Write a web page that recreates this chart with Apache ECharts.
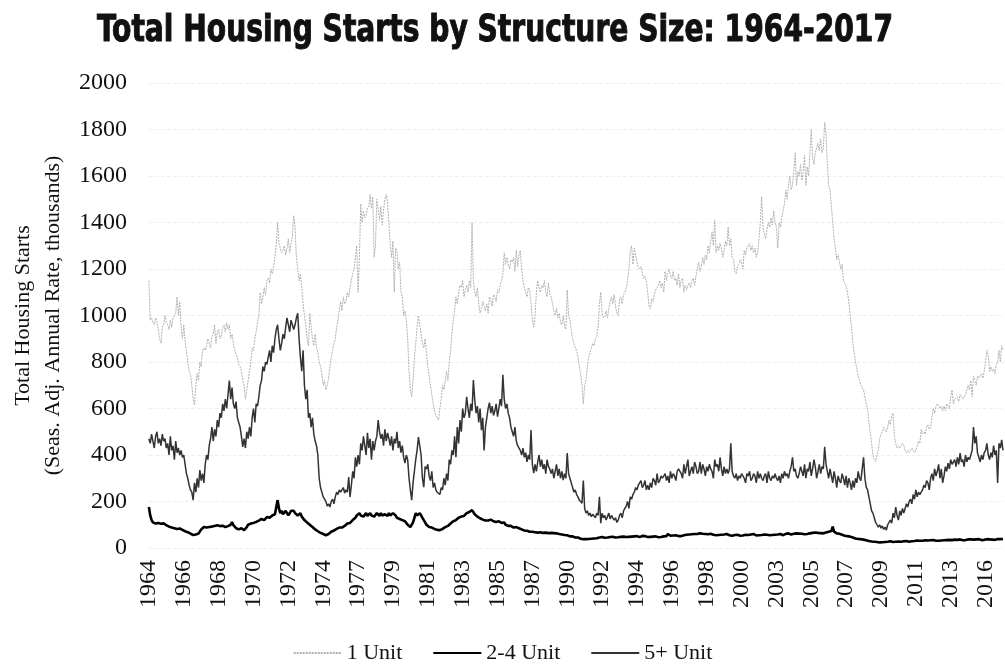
<!DOCTYPE html>
<html>
<head>
<meta charset="utf-8">
<script src="https://cdn.jsdelivr.net/npm/echarts@6/dist/echarts.min.js"></script>
<style>
  html, body { margin: 0; padding: 0; background: #fff; }
  #chart { width: 1005px; height: 669px; }
</style>
</head>
<body>
<div id="chart"></div>
<script>
// monthly, seasonally adjusted annual rate, thousands
var startYear = 1964;
var seriesNames = ['1 Unit', '2-4 Unit', '5+ Unit'];

var oneUnit = [
  1150, 980, 990, 970, 960, 990, 975, 940, 900, 880, 950, 960,
  1000, 970, 960, 940, 980, 950, 990, 1000, 1010, 1080, 1000, 1060,
  950, 900, 960, 890, 850, 800, 760, 750, 700, 640, 615, 700,
  750, 720, 800, 780, 850, 860, 850, 870, 900, 880, 860, 910,
  920, 960, 880, 930, 940, 900, 910, 950, 960, 930, 970, 940,
  960, 900, 920, 880, 850, 830, 820, 790, 780, 760, 720, 700,
  640, 680, 720, 760, 800, 860, 850, 900, 930, 970, 1000, 1100,
  1050, 1080, 1120, 1090, 1150, 1160, 1140, 1200, 1180, 1210, 1250, 1300,
  1400, 1310, 1290, 1270, 1280, 1300, 1260, 1290, 1330, 1270, 1310, 1340,
  1430, 1380, 1250, 1200, 1150, 1180, 1120, 1050, 1000, 960, 900, 870,
  1010, 950, 900, 870, 920, 860, 840, 800, 780, 750, 700, 720,
  680, 700, 730, 780, 820, 850, 880, 900, 950, 980, 1020, 1060,
  1020, 1080, 1050, 1060, 1100, 1080, 1120, 1150, 1180, 1200, 1250, 1300,
  1100, 1250, 1480, 1400, 1450, 1420, 1430, 1460, 1470, 1520, 1460, 1510,
  1250, 1300, 1500, 1460, 1410, 1470, 1390, 1450, 1500, 1520, 1480, 1400,
  1300, 1250, 1320, 1100, 1290, 1280, 1200, 1230, 1100, 1080, 1000, 1020,
  980, 900, 760, 680, 650, 720, 820, 880, 950, 1000, 960, 920,
  880, 860, 900, 840, 780, 740, 700, 660, 620, 590, 570, 560,
  550, 600, 640, 700, 680, 720, 760, 720, 800, 850, 920, 980,
  1020, 1080, 1050, 1100, 1130, 1120, 1150, 1080, 1110, 1130, 1100, 1150,
  1120, 1400, 1150, 1100, 1080, 1120, 1050, 1010, 1030, 1060, 1040, 1020,
  1050, 1010, 1080, 1070, 1040, 1090, 1080, 1060, 1110, 1100, 1130, 1150,
  1180, 1270, 1220, 1250, 1220, 1200, 1240, 1230, 1250, 1190, 1280, 1210,
  1260, 1280, 1200, 1150, 1120, 1100, 1080, 1120, 1110, 1050, 980, 950,
  1000, 1100, 1150, 1120, 1100, 1130, 1120, 1150, 1100, 1080, 1140, 1090,
  1080, 1050, 1020, 1000, 1030, 990, 1010, 970, 960, 1000, 950, 940,
  1110, 1000, 980, 940, 900, 880, 860, 850, 820, 780, 750, 700,
  620, 700, 720, 780, 820, 840, 860, 880, 870, 900, 910, 950,
  1050, 1100, 1010, 990, 1000, 1020, 990, 1030, 1060, 1080, 1050, 1090,
  1040, 1010, 1000, 1070, 1080, 1050, 1090, 1100, 1120, 1150, 1200, 1280,
  1300, 1220, 1290, 1260, 1230, 1210, 1200, 1210, 1180, 1160, 1170, 1150,
  1100, 1040, 1030, 1070, 1060, 1090, 1110, 1120, 1130, 1150, 1120, 1140,
  1100, 1190, 1150, 1180, 1200, 1170, 1160, 1190, 1150, 1160, 1130, 1180,
  1120, 1150, 1160, 1100, 1130, 1110, 1130, 1140, 1120, 1150, 1160, 1130,
  1170, 1200, 1230, 1190, 1210, 1250, 1220, 1260, 1240, 1300, 1270, 1320,
  1360, 1300, 1410, 1270, 1300, 1280, 1310, 1290, 1250, 1280, 1320, 1300,
  1380, 1300, 1330, 1250, 1240, 1190, 1180, 1210, 1220, 1240, 1230, 1200,
  1280, 1260, 1290, 1300, 1310, 1280, 1300, 1270, 1290, 1250, 1270, 1330,
  1400, 1510, 1380, 1350, 1330, 1370, 1400, 1380, 1420, 1390, 1450, 1400,
  1380, 1290, 1400, 1380, 1420, 1450, 1480, 1540, 1500, 1560, 1600, 1540,
  1560, 1620, 1700, 1560, 1620, 1600, 1650, 1580, 1620, 1690, 1560, 1640,
  1600, 1700, 1800, 1680, 1650, 1700, 1720, 1740, 1710, 1760, 1700, 1720,
  1830, 1780, 1650, 1560, 1540, 1470, 1400, 1330, 1290, 1240, 1260, 1230,
  1200, 1220, 1150, 1140, 1130, 1100, 1060, 1000, 950, 880, 840, 800,
  770, 740, 720, 700, 690, 680, 650, 620, 600, 540, 500, 450,
  400, 380, 370, 400, 420, 470, 490, 500, 520, 510, 500, 520,
  550, 530, 570, 580, 480, 450, 430, 440, 430, 430, 450, 440,
  420, 410, 420, 410, 420, 430, 420, 410, 420, 440, 460, 450,
  510, 490, 500, 490, 520, 530, 510, 520, 560, 600, 580, 610,
  620, 610, 600, 610, 590, 610, 590, 620, 620, 600, 650, 680,
  620, 640, 640, 650, 630, 660, 650, 640, 650, 660, 680, 700,
  680, 720, 650, 740, 720, 700, 740, 730, 740, 750, 730, 760,
  800, 850, 830, 760, 780, 760, 770, 750, 790, 800, 850, 800,
  870, 850
];

var twoToFour = [
  176, 140, 120, 110, 115, 105, 110, 108, 112, 104, 100, 106,
  100, 98, 95, 92, 90, 88, 95, 85, 86, 82, 80, 84,
  80, 78, 75, 72, 70, 68, 65, 62, 58, 56, 60, 58,
  60, 62, 70, 80, 85, 90, 92, 88, 95, 90, 94, 92,
  92, 95, 90, 98, 100, 94, 92, 96, 95, 90, 98, 94,
  95, 100, 112, 98, 90, 85, 92, 80, 78, 85, 80, 77,
  80, 90, 100, 95, 105, 110, 108, 115, 112, 120, 118, 125,
  125, 130, 120, 128, 133, 125, 130, 135, 140, 138, 145, 150,
  206, 170, 150, 160, 145, 150, 160, 155, 140, 150, 160, 155,
  160, 150, 155, 140, 145, 150, 135, 130, 120, 115, 110, 105,
  100, 95, 90, 85, 80, 78, 72, 70, 65, 62, 60, 58,
  55, 58, 60, 65, 70, 72, 75, 80, 82, 85, 88, 90,
  88, 92, 95, 100, 105, 110, 108, 115, 120, 125, 130, 140,
  145, 150, 140, 148, 135, 142, 150, 138, 145, 150, 140, 148,
  135, 140, 150, 145, 138, 150, 140, 135, 145, 140, 138, 150,
  140, 135, 150, 145, 140, 130, 135, 125, 130, 120, 125, 115,
  110, 100, 95, 90, 95, 110, 130, 150, 140, 145, 150, 140,
  130, 120, 110, 100, 95, 90, 92, 88, 85, 82, 80, 78,
  78, 77, 80, 82, 85, 90, 88, 95, 100, 105, 110, 115,
  118, 120, 125, 130, 128, 135, 140, 138, 145, 150, 148, 155,
  158, 163, 155, 145, 140, 135, 130, 128, 125, 122, 120, 118,
  120, 118, 115, 122, 118, 115, 120, 112, 110, 115, 112, 108,
  105, 110, 100, 98, 95, 92, 95, 90, 88, 92, 90, 88,
  85, 82, 80, 78, 75, 78, 74, 72, 70, 72, 70, 68,
  68, 70, 66, 72, 68, 70, 65, 68, 66, 70, 64, 66,
  65, 62, 64, 60, 63, 58, 60, 56, 58, 55, 56, 54,
  55, 52, 50, 48, 50, 46, 45, 44, 45, 42, 40, 38,
  38, 40, 38, 40, 39, 41, 40, 42, 41, 43, 42, 44,
  45, 43, 47, 45, 44, 46, 45, 43, 47, 45, 48, 46,
  45, 47, 46, 44, 48, 47, 49, 45, 47, 50, 48, 47,
  49, 47, 50, 48, 51, 49, 47, 50, 52, 49, 51, 50,
  47, 45, 48, 46, 49, 47, 50, 48, 46, 49, 47, 51,
  50, 53, 51, 60, 55, 53, 57, 54, 52, 55, 53, 51,
  53, 51, 57, 55, 60, 57, 61, 58, 55, 59, 57, 60,
  57, 60, 58, 63, 59, 61, 57, 60, 62, 59, 58, 61,
  59, 57, 60, 55, 58, 56, 59, 57, 55, 58, 56, 60,
  57, 55, 58, 53, 60, 56, 54, 57, 55, 53, 56, 54,
  55, 57, 53, 56, 54, 58, 55, 60, 57, 54, 56, 55,
  53, 56, 54, 58, 55, 57, 53, 55, 58, 56, 54, 57,
  55, 58, 56, 60, 57, 55, 59, 61, 57, 63, 60, 58,
  59, 61, 57, 63, 60, 62, 58, 61, 64, 59, 62, 60,
  61, 63, 60, 65, 62, 67, 63, 65, 68, 64, 66, 63,
  65, 67, 63, 70, 67, 73, 92, 70, 65, 63, 60, 61,
  59, 57, 55, 53, 55, 51, 50, 49, 47, 45, 43, 41,
  40, 39, 37, 38, 35, 36, 34, 33, 31, 30, 29, 28,
  28, 27, 25, 26, 25, 24, 26, 25, 27, 26, 25, 27,
  27, 29, 28, 26, 29, 27, 30, 28, 29, 27, 31, 29,
  28, 30, 29, 27, 31, 29, 28, 30, 29, 32, 30, 31,
  29, 31, 30, 33, 31, 32, 30, 33, 31, 34, 32, 31,
  33, 31, 35, 32, 34, 33, 36, 34, 32, 35, 33, 34,
  34, 36, 33, 35, 34, 37, 35, 33, 36, 34, 35, 37,
  35, 37, 34, 36, 39, 37, 35, 38, 36, 34, 37, 35,
  36, 38, 35, 37, 39, 36, 38, 35, 37, 39, 36, 38,
  37, 39
];

var fivePlus = [
  470, 450, 490, 460, 430, 480, 500, 450, 470, 440, 490, 460,
  470, 430, 450, 400, 480, 420, 440, 380, 460, 410, 430, 400,
  420, 390, 400, 360, 320, 300, 270, 250, 240, 206, 280, 240,
  300, 260, 335, 290, 320, 280, 360, 400, 380, 440, 470, 520,
  460, 510, 480, 550, 520, 580, 560, 620, 590, 640, 600, 660,
  720, 640, 690, 620, 600, 630, 560, 540, 520, 480, 435, 470,
  430, 500, 470, 520, 480, 560, 600, 540, 620, 610, 650, 700,
  720, 780, 760, 800, 790, 820, 850, 800, 870, 840, 900, 940,
  960, 900, 850, 880, 920, 900, 950, 990, 960, 930, 980, 960,
  940, 960, 990, 1010, 900, 820, 760, 850, 700, 640, 680, 560,
  580, 520, 560, 490, 460, 440, 400, 300, 260, 240, 220, 210,
  200, 180, 190, 176, 200, 210, 190, 220, 240, 230, 250, 240,
  250, 260, 236, 250, 240, 305, 220, 270, 330, 300, 390, 350,
  400, 360, 450, 420, 480, 440, 400, 495, 430, 470, 380, 460,
  420, 460, 480, 550, 500, 470, 490, 440, 510, 460, 495, 470,
  440, 480, 420, 470, 450, 500, 430, 460, 410, 440, 390, 365,
  400, 380, 300, 250, 206, 280, 330, 380, 420, 477, 440, 400,
  300, 262, 350, 340, 360, 310, 290, 330, 260, 280, 250, 240,
  240, 230, 260, 250, 300, 270, 320, 290, 380, 360, 420, 400,
  480, 390, 520, 450, 550, 500, 600, 560, 580, 650, 600, 560,
  620, 590, 722, 640, 580, 610, 540, 600, 507, 560, 420, 520,
  560, 600, 625, 580, 610, 570, 590, 620, 565, 600, 640, 610,
  745, 640, 600, 620, 580, 560, 520, 500, 480, 520, 460, 440,
  440, 420, 400, 430, 390, 410, 370, 400, 380, 507, 360, 322,
  360, 330, 370, 400, 350, 380, 340, 360, 320, 380, 350, 340,
  320, 340, 300, 330, 360, 310, 340, 300, 330, 292, 320, 300,
  408, 320, 300, 280, 260, 240, 250, 230, 220, 206, 200, 193,
  290, 170, 150, 160, 140, 150, 135, 145, 140, 130, 150, 140,
  220, 107, 150, 130, 140, 120, 135, 150, 125, 140, 130, 120,
  130, 110, 120, 140, 150, 130, 160, 170, 180, 200, 170, 220,
  210, 230, 240, 260, 250, 270, 280, 290, 260, 270, 290, 250,
  270, 250, 280, 260, 300, 290, 270, 320, 280, 290, 310, 300,
  300, 320, 290, 310, 280, 330, 300, 320, 310, 290, 330, 340,
  340, 320, 300, 360, 320, 350, 380, 310, 330, 350, 320, 370,
  350, 320, 330, 370, 320, 360, 340, 310, 350, 330, 360, 340,
  330, 300, 380, 350, 360, 330, 390, 340, 310, 350, 320, 340,
  320, 340, 450, 330, 310, 300, 320, 290, 310, 300, 320, 310,
  300, 280, 320, 310, 330, 290, 300, 320, 310, 280, 330, 300,
  320, 300, 290, 310, 320, 280, 330, 300, 290, 310, 300, 320,
  300, 290, 310, 280, 320, 300, 330, 310, 320, 300, 330, 350,
  390, 330, 340, 310, 300, 320, 350, 330, 310, 360, 300, 340,
  330, 370, 310, 340, 380, 350, 300, 330, 360, 320, 350, 340,
  435, 360, 330, 300, 340, 310, 280, 330, 300, 260, 310, 290,
  280, 320, 300, 270, 310, 260, 300, 280, 250, 290, 260, 300,
  280, 330, 300, 290, 340, 390, 300, 262, 250, 220, 190, 160,
  150, 130, 110, 100, 90, 100, 85, 95, 80, 90, 77, 100,
  110, 120, 107, 150, 130, 176, 140, 120, 160, 140, 170, 150,
  170, 190, 176, 200, 210, 190, 230, 210, 250, 220, 240, 230,
  240, 250, 270, 260, 290, 280, 250, 300, 320, 290, 340, 310,
  330, 360, 300, 340, 280, 310, 350, 330, 365, 340, 380, 360,
  360, 380, 350, 390, 360, 408, 370, 380, 350, 400, 370, 390,
  380, 400, 420, 520, 450, 480, 408, 390, 370, 400, 380, 410,
  420, 450, 400, 380, 410, 390, 440, 400, 420, 280, 450, 430,
  465, 420
];

// month categories, 1964-01 onward
var months = [];
for (var i = 0; i < oneUnit.length; i ++){
    var y = startYear + Math.floor(i / 12);
    var m = i % 12 + 1;
    months.push(y + '-' + (m < 10 ? '0' + m : m));
}

var titleText = 'Total Housing Starts by Structure Size: 1964-2017';
var serif = '"Liberation Serif", "Times New Roman", serif';

// squeeze the heavy title to the width it has in the picture
var titleFont = 'bold 38px "DejaVu Sans Condensed", "DejaVu Sans", sans-serif';
var ctx = document.createElement('canvas').getContext('2d');
ctx.font = titleFont;
var titleScale = 796 / ctx.measureText(titleText).width;

var chart = echarts.init(document.getElementById('chart'), null, {renderer: 'canvas'});
var option = {
    backgroundColor: '#fff',
    animation: false,
    graphic: [{
        type: 'text',
        x: 495,
        y: 31,
        scaleX: titleScale,
        style: {
            text: titleText,
            x: 0,
            y: 0,
            align: 'center',
            verticalAlign: 'middle',
            font: titleFont,
            fill: '#111',
            stroke: '#111',
            lineWidth: 1
        }
    }],
    grid: {
        left: 147,
        right: 2,
        top: 83,
        bottom: 121
    },
    legend: {
        bottom: 0,
        left: 'center',
        itemWidth: 48,
        itemHeight: 10,
        itemGap: 30,
        itemStyle: {opacity: 0},
        textStyle: {fontFamily: serif, fontSize: 22, color: '#111'},
        data: seriesNames
    },
    xAxis: {
        type: 'category',
        boundaryGap: false,
        data: months,
        axisLine: {show: false},
        axisTick: {show: false},
        splitLine: {show: false},
        axisLabel: {
            interval: 25,
            rotate: 90,
            margin: 12,
            fontFamily: serif,
            fontSize: 24,
            color: '#111',
            formatter: function (v) { return v.slice(0, 4); }
        }
    },
    yAxis: {
        type: 'value',
        min: 0,
        max: 2000,
        interval: 200,
        name: 'Total Housing Starts\n(Seas. Adj. Annual Rate, thousands)',
        nameLocation: 'middle',
        nameRotate: 90,
        nameGap: 80,
        nameTextStyle: {fontFamily: serif, fontSize: 22, color: '#111', lineHeight: 30},
        axisLine: {show: false},
        axisTick: {show: false},
        axisLabel: {
            fontFamily: serif,
            fontSize: 24,
            color: '#111',
            margin: 22,
            formatter: function (v) { return String(v); }
        },
        splitLine: {lineStyle: {color: '#eeeeee', type: 'dashed'}}
    },
    series: [
        {
            name: '1 Unit',
            type: 'line',
            data: oneUnit,
            symbol: 'none',
            lineStyle: {color: '#b0b0b0', width: 1, type: [2, 1]},
            itemStyle: {color: '#b0b0b0'},
            z: 1
        },
        {
            name: '2-4 Unit',
            type: 'line',
            data: twoToFour,
            symbol: 'none',
            lineStyle: {color: '#000', width: 2.6},
            itemStyle: {color: '#000'},
            z: 3
        },
        {
            name: '5+ Unit',
            type: 'line',
            data: fivePlus,
            symbol: 'none',
            lineStyle: {color: '#333', width: 1.5},
            itemStyle: {color: '#333'},
            z: 2
        }
    ]
};
chart.setOption(option);
</script>
</body>
</html>
